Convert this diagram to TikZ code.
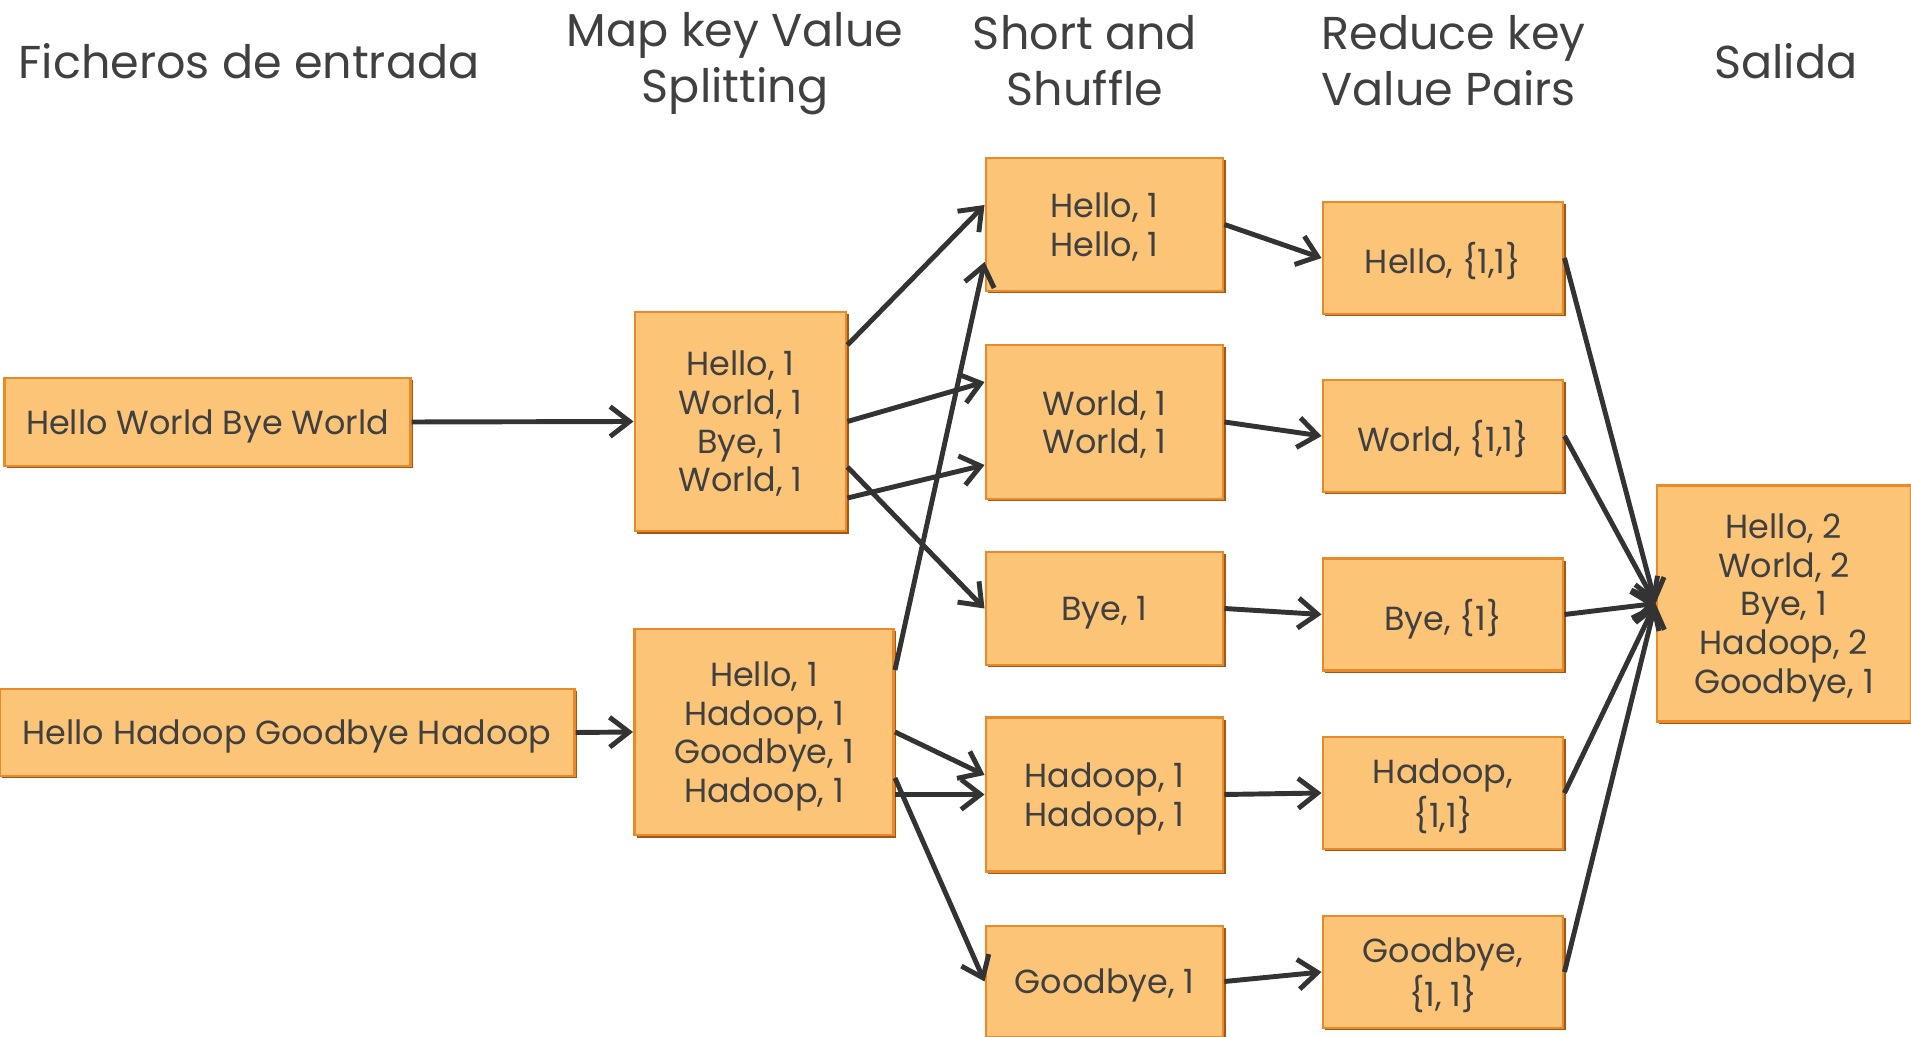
\documentclass[tikz,border=0pt]{standalone}
\usepackage{fontspec}
\setmainfont{Poppins}
\usetikzlibrary{arrows.meta,calc,shadows}

\definecolor{cajafondo}{RGB}{252,196,118}
\definecolor{cajaborde}{RGB}{232,137,42}
\definecolor{cajasombra}{RGB}{165,88,22}
\definecolor{texto}{RGB}{64,64,64}
\definecolor{linea}{RGB}{51,51,51}

\tikzset{
  caja/.style={draw=cajaborde, line width=0.8pt, fill=cajafondo, text=texto,
    inner sep=0pt, align=center, text depth=0pt, font=\fontsize{9.5}{11}\selectfont,
    drop shadow={shadow xshift=0.7pt, shadow yshift=-0.7pt, fill=cajasombra, opacity=1}},
  titulo/.style={text=texto, align=center, font=\fontsize{13.1}{16}\selectfont},
  flecha/.style={draw=linea, line width=1.4pt, -{Straight Barb[length=5.5pt,width=8.5pt]}}
}

\begin{document}
\begin{tikzpicture}[x=0.01cm,y=-0.01cm]
  \useasboundingbox (0,0) rectangle (1911,1037);

  % titulos
  \node[titulo] (t1) at (249,61) {Ficheros de entrada};
  \node[titulo] (t2) at (735,64) {Map key Value\\Splitting};
  \node[titulo] (t3) at (1085,61) {Short and\\Shuffle};
  \node[titulo, align=left, anchor=west] (t4) at (1309,61) {Reduce key\\Value Pairs};
  \node[titulo] (t5) at (1786,61) {Salida};

  % entrada y map
  \node[caja, minimum width=4.05cm, minimum height=0.88cm] (in1) at (207.5,422) {Hello World Bye World};
  \node[caja, minimum width=5.74cm, minimum height=0.87cm] (in2) at (287,732.5) {Hello Hadoop Goodbye Hadoop};
  \node[caja, minimum width=2.11cm, minimum height=2.19cm] (map1) at (740.5,421.5) {Hello, 1\\World, 1\\Bye, 1\\World, 1};
  \node[caja, minimum width=2.59cm, minimum height=2.06cm] (map2) at (764,732) {Hello, 1\\Hadoop, 1\\Goodbye, 1\\Hadoop, 1};

  % short and shuffle
  \node[caja, minimum width=2.37cm, minimum height=1.33cm] (sh1) at (1104.5,224.5) {Hello, 1\\Hello, 1};
  \node[caja, minimum width=2.37cm, minimum height=1.54cm] (sh2) at (1104.5,422) {World, 1\\World, 1};
  \node[caja, minimum width=2.37cm, minimum height=1.13cm] (sh3) at (1104.5,608.5) {Bye, 1};
  \node[caja, minimum width=2.37cm, minimum height=1.54cm] (sh4) at (1104.5,794.5) {Hadoop, 1\\Hadoop, 1};
  \node[caja, minimum width=2.37cm, minimum height=1.11cm] (sh5) at (1104.5,981.5) {Goodbye, 1};

  % reduce
  \node[caja, minimum width=2.40cm, minimum height=1.12cm] (red1) at (1443,258) {Hello, \{1,1\}};
  \node[caja, minimum width=2.40cm, minimum height=1.12cm] (red2) at (1443,436) {World, \{1,1\}};
  \node[caja, minimum width=2.40cm, minimum height=1.12cm] (red3) at (1443,614.5) {Bye, \{1\}};
  \node[caja, minimum width=2.40cm, minimum height=1.12cm] (red4) at (1443,793) {Hadoop,\\\{1,1\}};
  \node[caja, minimum width=2.40cm, minimum height=1.12cm] (red5) at (1443,972) {Goodbye,\\\{1, 1\}};

  % salida
  \node[caja, minimum width=2.54cm, minimum height=2.36cm] (out) at (1784,603.5) {Hello, 2\\World, 2\\Bye, 1\\Hadoop, 2\\Goodbye, 1};

  \draw[flecha] (in1.east) -- (map1.west);
  \draw[flecha] (in2.east) -- (map2.west);

  \draw[flecha] ($(map1.east)+(0,-76.5)$) -- ($(sh1.west)+(0,-19.5)$);
  \draw[flecha] (map1.east) -- ($(sh2.west)+(0,-40)$);
  \draw[flecha] ($(map1.east)+(0,76.5)$) -- ($(sh2.west)+(0,43)$);
  \draw[flecha] ($(map1.east)+(0,45.5)$) -- (sh3.west);

  \draw[flecha] ($(map2.east)+(0,-62)$) -- ($(sh1.west)+(0,37.5)$);
  \draw[flecha] (map2.east) -- ($(sh4.west)+(0,-19.5)$);
  \draw[flecha] ($(map2.east)+(0,62.5)$) -- (sh4.west);
  \draw[flecha] ($(map2.east)+(0,46)$) -- (sh5.west);

  \foreach \i in {1,...,5}{
    \draw[flecha] (sh\i.east) -- (red\i.west);
    \draw[flecha] (red\i.east) -- (out.west);
  }
\end{tikzpicture}
\end{document}
